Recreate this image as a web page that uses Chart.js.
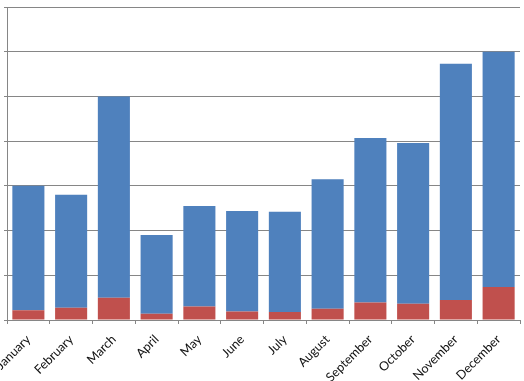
<!DOCTYPE html>
<html>
<head>
<meta charset="utf-8">
<script src="https://cdn.jsdelivr.net/npm/chart.js@4.4.0/dist/chart.umd.min.js"></script>
<style>
  html, body { margin: 0; padding: 0; background: #fff; }
  #wrap { width: 524px; height: 381px; position: relative; }
</style>
</head>
<body>
<div id="wrap"><canvas id="c"></canvas></div>
<script>
const months = ["January","February","March","April","May","June","July","August","September","October","November","December"];
const lowerSeries = [2.2, 2.75, 5.0, 1.4, 3.0, 1.9, 1.8, 2.5, 3.9, 3.65, 4.5, 7.4];
const upperSeries = [27.8, 25.25, 45.0, 17.6, 22.5, 22.5, 22.4, 29.0, 36.8, 35.95, 52.8, 52.6];
const yMax = 70;
const yStep = 10;

const gridColor = "#868686";

new Chart(document.getElementById("c"), {
  type: "bar",
  data: {
    labels: months,
    datasets: [
      { label: "Series 2", data: lowerSeries, backgroundColor: "#C0504D", borderWidth: 0 },
      { label: "Series 1", data: upperSeries, backgroundColor: "#4F81BD", borderWidth: 0 }
    ]
  },
  options: {
    responsive: true,
    maintainAspectRatio: false,
    animation: false,
    layout: { padding: { top: 7, right: 4, left: 0, bottom: 0 } },
    plugins: { legend: { display: false }, tooltip: { enabled: false } },
    datasets: { bar: { categoryPercentage: 1.0, barPercentage: 0.75 } },
    scales: {
      x: {
        stacked: true,
        offset: true,
        grid: { offset: true, drawOnChartArea: false, drawTicks: true, tickLength: 4, color: gridColor, lineWidth: 1 },
        border: { display: true, color: gridColor, width: 1 },
        ticks: {
          minRotation: 45, maxRotation: 45, autoSkip: false,
          color: "#111", font: { family: "Lato", size: 12.5 }, padding: 8
        },
        afterFit: (s) => { s.height = 61; s.paddingLeft = 0; s.paddingRight = 0; }
      },
      y: {
        stacked: true,
        min: 0, max: yMax,
        grid: { color: gridColor, lineWidth: 1, drawTicks: true, tickLength: 3 },
        border: { display: true, color: gridColor, width: 1 },
        ticks: { display: false, stepSize: yStep },
        afterFit: (s) => { s.width = 7; s.paddingTop = 0; s.paddingBottom = 0; }
      }
    }
  }
});
</script>
</body>
</html>
